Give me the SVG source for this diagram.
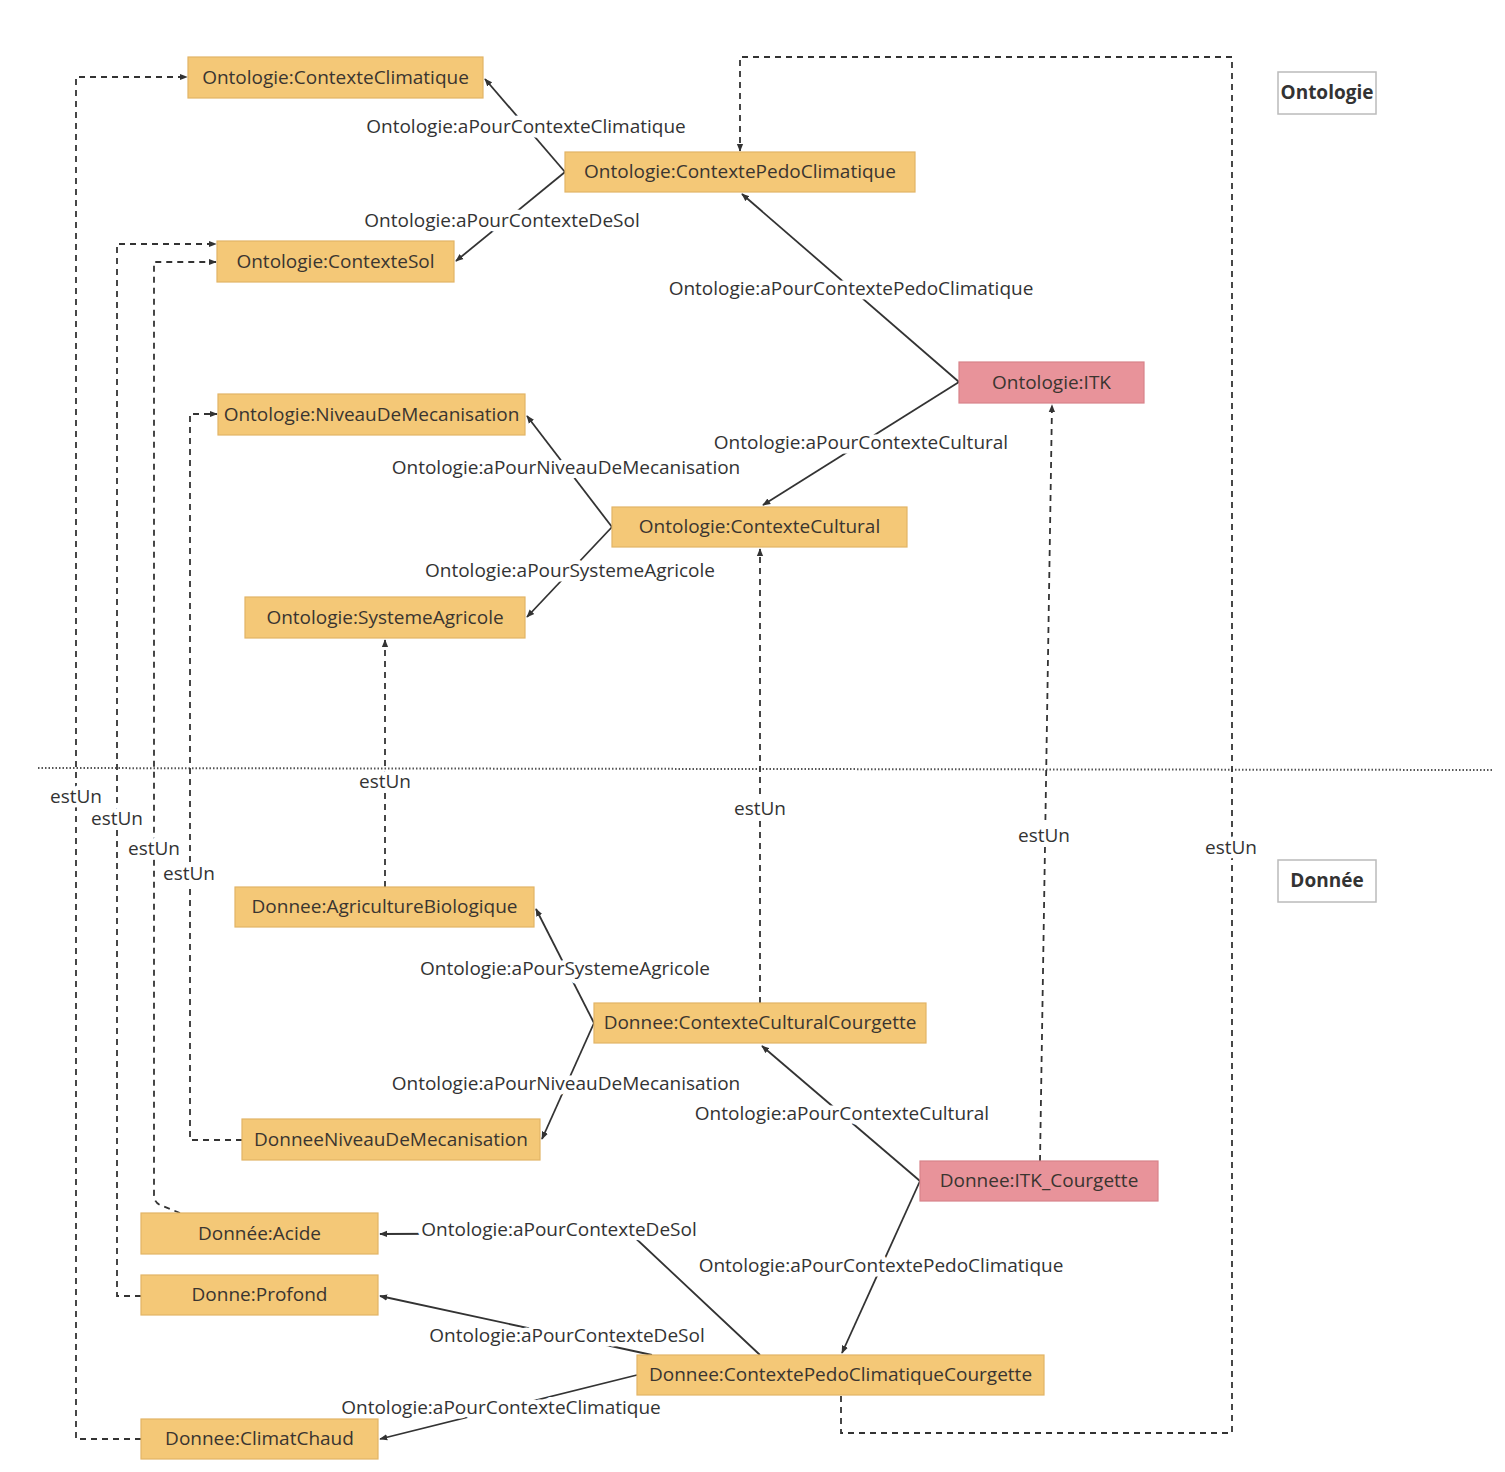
<svg xmlns="http://www.w3.org/2000/svg" width="1505" height="1472" viewBox="0 0 1505 1472">
<style>
.n rect{fill:#F4C877;stroke:#E2B466;stroke-width:1.2}
.p rect{fill:#E8939A;stroke:#D8838A;stroke-width:1.2}
text{font-family:"Open Sans","Noto Sans","Liberation Sans",sans-serif;font-size:19px;fill:#3a3530;text-anchor:middle;dominant-baseline:central}
.lbl{fill:#333;paint-order:stroke;stroke:#fff;stroke-width:9px;stroke-linejoin:round}
.s{fill:none;stroke:#333;stroke-width:1.8;marker-end:url(#arr)}
.d{fill:none;stroke:#333;stroke-width:1.8;stroke-dasharray:6 5;marker-end:url(#arr)}
.hd rect{fill:#fff;stroke:#bbb;stroke-width:1.5}
.hd text{font-weight:bold;fill:#333}
</style>
<defs>
<marker id="arr" viewBox="0 0 10 10" refX="9" refY="5" markerWidth="8" markerHeight="8" markerUnits="userSpaceOnUse" orient="auto"><path d="M0,1 L10,5 L0,9 z" fill="#333"/></marker>
</defs>
<rect width="1505" height="1472" fill="#fff"/>
<line x1="38" y1="768" x2="1492" y2="770" stroke="#555" stroke-width="2" stroke-dasharray="1.5 2"/>
<g id="connectors">
<path class="s" d="M565,172 L485,79"/>
<path class="s" d="M565,172 L456,261"/>
<path class="s" d="M959,382 L742,194"/>
<path class="s" d="M959,382 L763,505"/>
<path class="s" d="M612,527 L527,416"/>
<path class="s" d="M612,527 L527,617"/>
<path class="s" d="M594,1023 L536,909"/>
<path class="s" d="M594,1023 L542,1139"/>
<path class="s" d="M920,1181 L762,1046"/>
<path class="s" d="M920,1181 L842,1353"/>
<path class="s" d="M760,1355 L630,1233 L380,1234"/>
<path class="s" d="M652,1355 L380,1296"/>
<path class="s" d="M637,1375 L380,1439"/>
<path class="d" d="M385,887 L385,640"/>
<path class="d" d="M760,1003 L760,549"/>
<path class="d" d="M1040,1161 L1052,405"/>
<path class="d" d="M841,1396 L841,1433 L1232,1433 L1232,57 L740,57 L740,151"/>
<path class="d" d="M141,1439 L76,1439 L76,77 L187,77"/>
<path class="d" d="M141,1296 L117,1296 L117,244 L216,244"/>
<path class="d" d="M180,1213 L160,1205 Q154,1202 154,1195 L154,262 L216,262"/>
<path class="d" d="M242,1140 L190,1140 L190,414 L217,414"/>
<text class="lbl" x="526" y="126">Ontologie:aPourContexteClimatique</text>
<text class="lbl" x="502" y="220">Ontologie:aPourContexteDeSol</text>
<text class="lbl" x="851" y="288">Ontologie:aPourContextePedoClimatique</text>
<text class="lbl" x="861" y="442">Ontologie:aPourContexteCultural</text>
<text class="lbl" x="566" y="467">Ontologie:aPourNiveauDeMecanisation</text>
<text class="lbl" x="570" y="570">Ontologie:aPourSystemeAgricole</text>
<text class="lbl" x="385" y="781">estUn</text>
<text class="lbl" x="760" y="808">estUn</text>
<text class="lbl" x="1044" y="835">estUn</text>
<text class="lbl" x="1231" y="847">estUn</text>
<text class="lbl" x="76" y="796">estUn</text>
<text class="lbl" x="117" y="818">estUn</text>
<text class="lbl" x="154" y="848">estUn</text>
<text class="lbl" x="189" y="873">estUn</text>
<text class="lbl" x="565" y="968">Ontologie:aPourSystemeAgricole</text>
<text class="lbl" x="566" y="1083">Ontologie:aPourNiveauDeMecanisation</text>
<text class="lbl" x="842" y="1113">Ontologie:aPourContexteCultural</text>
<text class="lbl" x="881" y="1265">Ontologie:aPourContextePedoClimatique</text>
<text class="lbl" x="559" y="1229">Ontologie:aPourContexteDeSol</text>
<text class="lbl" x="567" y="1335">Ontologie:aPourContexteDeSol</text>
<text class="lbl" x="501" y="1407">Ontologie:aPourContexteClimatique</text>
</g>
<g id="ontologie-contexteclimatique" class="n"><rect x="188" y="57" width="295" height="41"/><text x="335.5" y="77">Ontologie:ContexteClimatique</text></g>
<g id="ontologie-contextepedoclimatique" class="n"><rect x="565" y="152" width="350" height="40"/><text x="740" y="171">Ontologie:ContextePedoClimatique</text></g>
<g id="ontologie-contextesol" class="n"><rect x="217" y="241" width="237" height="41"/><text x="335.5" y="261">Ontologie:ContexteSol</text></g>
<g id="ontologie-itk" class="p"><rect x="959" y="362" width="185" height="41"/><text x="1051.5" y="382">Ontologie:ITK</text></g>
<g id="ontologie-niveaudemecanisation" class="n"><rect x="218" y="394" width="307" height="41"/><text x="371.5" y="414">Ontologie:NiveauDeMecanisation</text></g>
<g id="ontologie-contextecultural" class="n"><rect x="612" y="507" width="295" height="40"/><text x="759.5" y="526">Ontologie:ContexteCultural</text></g>
<g id="ontologie-systemeagricole" class="n"><rect x="245" y="597" width="280" height="41"/><text x="385" y="617">Ontologie:SystemeAgricole</text></g>
<g id="header-ontologie" class="hd"><rect x="1278" y="72" width="98" height="42"/><text x="1327" y="92">Ontologie</text></g>
<g id="header-donnee" class="hd"><rect x="1278" y="860" width="98" height="42"/><text x="1327" y="880">Donnée</text></g>
<g id="donnee-agriculturebiologique" class="n"><rect x="235" y="887" width="299" height="40"/><text x="384.5" y="906">Donnee:AgricultureBiologique</text></g>
<g id="donnee-contexteculturalcourgette" class="n"><rect x="594" y="1003" width="332" height="40"/><text x="760" y="1022">Donnee:ContexteCulturalCourgette</text></g>
<g id="donneeniveaudemecanisation" class="n"><rect x="242" y="1119" width="298" height="41"/><text x="391" y="1139">DonneeNiveauDeMecanisation</text></g>
<g id="donnee-itk-courgette" class="p"><rect x="920" y="1161" width="238" height="40"/><text x="1039" y="1180">Donnee:ITK_Courgette</text></g>
<g id="donnee-acide" class="n"><rect x="141" y="1213" width="237" height="41"/><text x="259.5" y="1233">Donnée:Acide</text></g>
<g id="donne-profond" class="n"><rect x="141" y="1275" width="237" height="40"/><text x="259.5" y="1294">Donne:Profond</text></g>
<g id="donnee-contextepedoclimatiquecourgette" class="n"><rect x="637" y="1355" width="407" height="40"/><text x="840.5" y="1374">Donnee:ContextePedoClimatiqueCourgette</text></g>
<g id="donnee-climatchaud" class="n"><rect x="141" y="1419" width="237" height="40"/><text x="259.5" y="1438">Donnee:ClimatChaud</text></g>
</svg>
